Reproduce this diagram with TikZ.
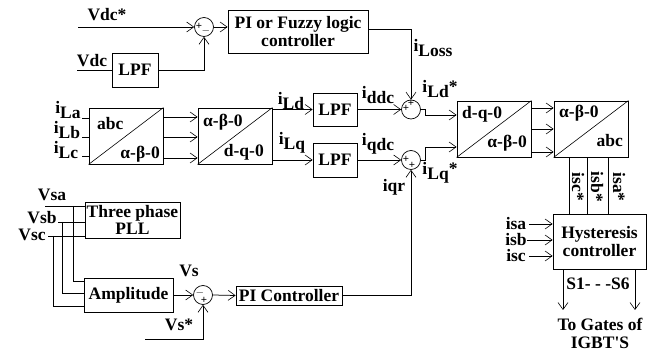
\documentclass[tikz,border=0pt]{standalone}
\usepackage{fontspec}
\setmainfont{Liberation Serif}
\usetikzlibrary{arrows.meta}
\newcommand\ib[2]{#1\raisebox{-0.3em}{#2}}
\begin{document}
\begin{tikzpicture}[x=1pt,y=-1pt,
 font=\fontsize{17.5}{18}\selectfont\bfseries,
 every node/.style={inner sep=0pt},
 box/.style={draw, line width=0.8pt, align=center},
 sumc/.style={draw, circle, minimum size=19pt, line width=0.7pt, inner sep=0pt},
 sign/.style={font=\fontsize{11}{11}\selectfont\bfseries},
 line/.style={line width=0.75pt},
 diag/.style={line width=0.6pt},
 arr/.style={line width=0.75pt, -{Straight Barb[length=7pt,width=10pt,line width=0.6pt]}}]
\useasboundingbox (0,0) rectangle (657,352);

% boxes
\node[box, minimum width=140pt, minimum height=43pt] (pi) at (298,31.5) {PI or Fuzzy logic\\controller};
\node[box, minimum width=46pt, minimum height=34pt] (lpf0) at (135,70) {LPF};
\node[box, minimum width=74pt, minimum height=56pt] (abc) at (126,136) {};
\node[box, minimum width=74pt, minimum height=56pt] (ab) at (235,136) {};
\node[box, minimum width=44pt, minimum height=33pt] (lpf1) at (335,109.5) {LPF};
\node[box, minimum width=44pt, minimum height=34pt] (lpf2) at (335,160) {LPF};
\node[box, minimum width=74pt, minimum height=56pt] (dq) at (494,129) {};
\node[box, minimum width=74pt, minimum height=56pt] (ab2) at (591,129) {};
\node[box, minimum width=93pt, minimum height=55pt] (hys) at (599.5,241.5) {Hysteresis\\controller};
\node[box, minimum width=95pt, minimum height=36pt, font=\fontsize{17.5}{17}\selectfont\bfseries] (pll) at (132.5,220) {Three phase\\PLL};
\node[box, minimum width=89pt, minimum height=34pt] (amp) at (128.5,295) {Amplitude};
\node[box, minimum width=106pt, minimum height=19pt] (pic) at (289,295.5) {PI Controller};

% diagonals and texts of transformation boxes
\draw[diag] (abc.south west) -- (abc.north east);
\draw[diag] (ab.south west) -- (ab.north east);
\draw[diag] (dq.south west) -- (dq.north east);
\draw[diag] (ab2.south west) -- (ab2.north east);
\node[anchor=base west] (t1a) at (97,130) {abc};
\node[anchor=base east] (t1b) at (160,159) {α-β-0};
\node[anchor=base west] (t2a) at (203,127) {α-β-0};
\node[anchor=base east] (t2b) at (264,157) {d-q-0};
\node[anchor=base west] (t3a) at (462,119) {d-q-0};
\node[anchor=base east] (t3b) at (527,148) {α-β-0};
\node[anchor=base west] (t4a) at (559,118) {α-β-0};
\node[anchor=base east] (t4b) at (623,147) {abc};

% summing junctions
\node[sumc] (s0) at (204,27) {};
\node[sumc] (s1) at (411,109.5) {};
\node[sumc] (s2) at (411,160) {};
\node[sumc] (s3) at (203,295) {};
\node[sign] (s0a) at (199,26) {+};
\node[sign] (s0b) at (206,31) {$-$};
\node[sign] (s1a) at (411,103) {+};
\node[sign] (s1b) at (406,108) {+};
\node[sign] (s2a) at (406,159) {+};
\node[sign] (s2b) at (412,165) {+};
\node[sign] (s3a) at (200,293) {$-$};
\node[sign] (s3b) at (204,300) {+};

% labels
\node (lvdcs) at (107,15) {Vdc*};
\node (lvdc) at (92,61) {Vdc};
\node (lla) at (68,110) {\ib{i}{La}};
\node (llb) at (67,130) {\ib{i}{Lb}};
\node (llc) at (66,150) {\ib{i}{Lc}};
\node (lld) at (291,101) {\ib{i}{Ld}};
\node (llq) at (292,143) {\ib{i}{Lq}};
\node (lddc) at (378,95) {\ib{i}{ddc}};
\node (lqdc) at (378,144) {\ib{i}{qdc}};
\node (lloss) at (433,48) {\ib{i}{Loss}};
\node (lldst) at (440,89) {\ib{i}{Ld}*};
\node (llqst) at (440,173) {\ib{i}{Lq}*};
\node (liqr) at (394,187) {iqr};
\node[rotate=-90] (lisc) at (578,187) {isc*};
\node[rotate=-90] (lisb) at (597,187) {isb*};
\node[rotate=-90] (lisa) at (619,187) {isa*};
\node (lia) at (516,224) {isa};
\node (lib) at (516,240) {isb};
\node (lic) at (516,256) {isc};
\node (ls16) at (598,284) {S1- - -S6};
\node[align=center] (lgates) at (600,333) {To Gates of\\IGBT\textquotesingle S};
\node (lvsa) at (52,195) {Vsa};
\node (lvsb) at (42,217.5) {Vsb};
\node (lvsc) at (32,235) {Vsc};
\node (lvs) at (189,271) {Vs};
\node (lvss) at (179,325) {Vs*};

% DC loop
\coordinate (vdcs) at (78,27);
\draw[arr] (vdcs) -- (s0.west);
\draw[arr] (s0.east) -- (s0.east -| pi.west);
\coordinate (vdcin) at (77,70);
\draw[line] (vdcin) -- (lpf0.west);
\draw[arr] (lpf0.east) -| (s0.south);

% load currents
\coordinate (la0) at (82,118);
\coordinate (lb0) at (82,137);
\coordinate (lc0) at (82,156);
\draw[line] (la0) -- (la0 -| abc.west);
\draw[line] (lb0) -- (lb0 -| abc.west);
\draw[line] (lc0) -- (lc0 -| abc.west);
\foreach \yy in {117,137,158} \draw[arr] (abc.east |- 0,\yy) -- (ab.west |- 0,\yy);
\draw[arr] (lpf1.west -| ab.east) -- (lpf1.west);
\draw[arr] (lpf2.west -| ab.east) -- (lpf2.west);
\draw[arr] (lpf1.east) -- (s1.west);
\draw[arr] (lpf2.east) -- (s2.west);
\draw[arr] (pi.east |- 0,29) -| (s1.north);
\draw[arr] (s1.east) -- ++(5,0) |- (dq.west |- 0,115);
\draw[arr] (s2.east) -- ++(5,0) |- (dq.west |- 0,147);
\foreach \yy in {108,129,152} \draw[arr] (dq.east |- 0,\yy) -- (ab2.west |- 0,\yy);
\foreach \xx in {569,587,608} \draw[line] (ab2.south -| \xx,0) -- (hys.north -| \xx,0);

% hysteresis inputs/outputs
\draw[arr] ([xshift=3pt]lia.east) -- (lia.east -| hys.west);
\draw[arr] (lib.east) -- (lib.east -| hys.west);
\draw[arr] ([xshift=3pt]lic.east) -- (lic.east -| hys.west);
\coordinate (g1) at (563,310);
\coordinate (g2) at (635,310);
\draw[arr] (g1 |- hys.south) -- (g1);
\draw[arr] (g2 |- hys.south) -- (g2);

% source voltages
\coordinate (a0) at (45,206);
\coordinate (b0) at (58,222);
\coordinate (c0) at (48,236);
\draw[line] (a0) -- (a0 -| pll.west);
\draw[line] (b0) -- (b0 -| pll.west);
\draw[line] (c0) -- (c0 -| pll.west);
\coordinate (ax) at (73,206);
\coordinate (bx) at (62,222);
\coordinate (cx) at (53,236);
\draw[line] (ax) |- (amp.west |- 0,281);
\draw[line] (bx) |- (amp.west |- 0,293);
\draw[line] (cx) |- (amp.west |- 0,306);

% voltage loop
\draw[arr] (amp.east) -- (s3.west);
\draw[arr] (s3.east) -- (pic.west);
\coordinate (vss) at (145,339);
\draw[arr] (vss) -| (s3.south);
\draw[arr] (pic.east) -| (s2.south);
\end{tikzpicture}
\end{document}
